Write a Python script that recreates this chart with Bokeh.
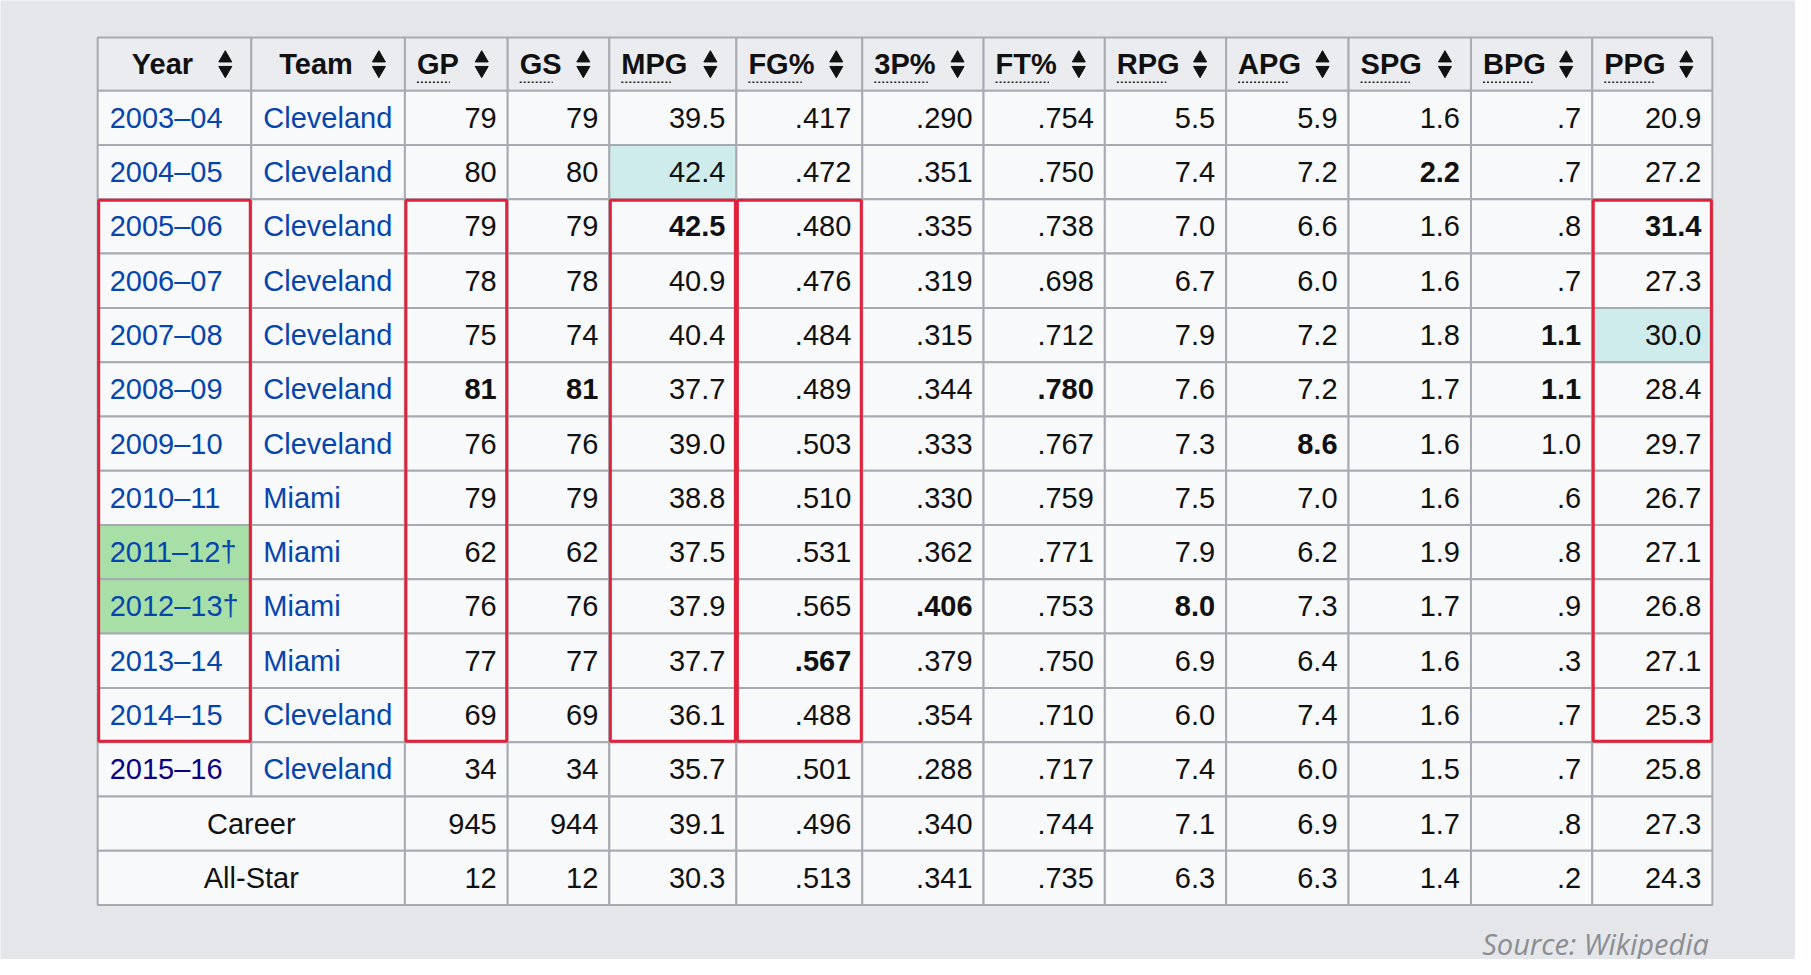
from bokeh.plotting import figure
from bokeh.models import Range1d
from bokeh.core.properties import value
from bokeh.embed import file_html
from bokeh.resources import INLINE

headers = ["Year", "Team", "GP", "GS", "MPG", "FG%", "3P%", "FT%", "RPG", "APG", "SPG", "BPG", "PPG"]
years = ["2003–04", "2004–05", "2005–06", "2006–07", "2007–08", "2008–09", "2009–10", "2010–11",
         "2011–12†", "2012–13†", "2013–14", "2014–15", "2015–16"]
teams = ["Cleveland"] * 7 + ["Miami"] * 4 + ["Cleveland"] * 2
gp = ["79", "80", "79", "78", "75", "81", "76", "79", "62", "76", "77", "69", "34", "945", "12"]
gs = ["79", "80", "79", "78", "74", "81", "76", "79", "62", "76", "77", "69", "34", "944", "12"]
mpg = ["39.5", "42.4", "42.5", "40.9", "40.4", "37.7", "39.0", "38.8", "37.5", "37.9", "37.7", "36.1", "35.7", "39.1", "30.3"]
fg = [".417", ".472", ".480", ".476", ".484", ".489", ".503", ".510", ".531", ".565", ".567", ".488", ".501", ".496", ".513"]
tp = [".290", ".351", ".335", ".319", ".315", ".344", ".333", ".330", ".362", ".406", ".379", ".354", ".288", ".340", ".341"]
ft = [".754", ".750", ".738", ".698", ".712", ".780", ".767", ".759", ".771", ".753", ".750", ".710", ".717", ".744", ".735"]
rpg = ["5.5", "7.4", "7.0", "6.7", "7.9", "7.6", "7.3", "7.5", "7.9", "8.0", "6.9", "6.0", "7.4", "7.1", "6.3"]
apg = ["5.9", "7.2", "6.6", "6.0", "7.2", "7.2", "8.6", "7.0", "6.2", "7.3", "6.4", "7.4", "6.0", "6.9", "6.3"]
spg = ["1.6", "2.2", "1.6", "1.6", "1.8", "1.7", "1.6", "1.6", "1.9", "1.7", "1.6", "1.6", "1.5", "1.7", "1.4"]
bpg = [".7", ".7", ".8", ".7", "1.1", "1.1", "1.0", ".6", ".8", ".9", ".3", ".7", ".7", ".8", ".2"]
ppg = ["20.9", "27.2", "31.4", "27.3", "30.0", "28.4", "29.7", "26.7", "27.1", "26.8", "27.1", "25.3", "25.8", "27.3", "24.3"]
summary_labels = ["Career", "All-Star"]
stat_cols = [gp, gs, mpg, fg, tp, ft, rpg, apg, spg, bpg, ppg]
bold_cells = {(2, 4), (1, 10), (4, 11), (5, 2), (5, 3), (5, 7), (5, 11), (6, 9), (9, 6), (9, 8), (10, 5), (2, 12)}
cyan_cells = {(1, 4), (4, 12)}
green_cells = {(8, 0), (9, 0)}
red_boxes = [(0, 0), (2, 2), (4, 4), (5, 5), (12, 12)]

S = 1.155
ref_cols = [85, 218, 351, 440, 528, 638, 747, 852, 957, 1062, 1168, 1274, 1379, 1483]
cx = [v * S - 1 for v in ref_cols]
ref_rows = [33, 79] + [79 + 47 * (i + 1) for i in range(15)]
ry = [v * S - 1 for v in ref_rows]

W, H = 1795, 959
p = figure(width=W, height=H, output_backend="svg", toolbar_location=None,
           x_range=Range1d(0, W), y_range=Range1d(H, 0), min_border=0)
p.axis.visible = False
p.grid.visible = False
p.outline_line_color = None
p.background_fill_color = "#e4e6ea"
p.border_fill_color = "#e4e6ea"

FS = "29px"
FONT = value("Liberation Sans")

xs, ys, ws, hs, cols = [], [], [], [], []
for r in range(16):
    for c in range(13):
        if r >= 14 and c == 1:
            continue
        x0, x1 = cx[c], cx[c + 1]
        if r >= 14 and c == 0:
            x1 = cx[2]
        y0, y1 = ry[r], ry[r + 1]
        if r == 0:
            col = "#eaecf0"
        elif (r - 1, c) in cyan_cells:
            col = "#cfeced"
        elif (r - 1, c) in green_cells:
            col = "#a7dfa7"
        else:
            col = "#f8f9fa"
        xs.append((x0 + x1) / 2); ys.append((y0 + y1) / 2)
        ws.append(x1 - x0); hs.append(y1 - y0); cols.append(col)
p.rect(x=xs, y=ys, width=ws, height=hs, fill_color=cols, line_color="#a7abb1", line_width=2)

for c, h in enumerate(headers):
    x0, x1 = cx[c], cx[c + 1]
    ym = (ry[0] + ry[1]) / 2
    if c < 2:
        p.text([(x0 + x1) / 2 - 12], [ym], text=[h], text_align="center", text_baseline="middle",
               text_font=FONT, text_font_size=FS, text_font_style="bold", text_color="#111")
    else:
        tx = x0 + 12
        p.text([tx], [ym], text=[h], text_align="left", text_baseline="middle",
               text_font=FONT, text_font_size=FS, text_font_style="bold", text_color="#111")
        tw = 16.5 * len(h) + (4 if "%" in h else 0)
        p.segment([tx], [ym + 18], [tx + tw], [ym + 18], line_color="#222", line_width=1.5, line_dash="2 2")
    ax = x1 - 26
    p.scatter([ax], [ym - 6], marker="triangle", size=13, color="#111")
    p.scatter([ax], [ym + 6], marker="inverted_triangle", size=13, color="#111")

for r in range(15):
    ym = (ry[r + 1] + ry[r + 2]) / 2
    if r < 13:
        p.text([cx[0] + 12], [ym], text=[years[r]], text_align="left", text_baseline="middle",
               text_font=FONT, text_font_size=FS, text_color="#0b0080" if r == 12 else "#0645ad")
        p.text([cx[1] + 12], [ym], text=[teams[r]], text_align="left", text_baseline="middle",
               text_font=FONT, text_font_size=FS, text_color="#0645ad")
    else:
        p.text([(cx[0] + cx[2]) / 2], [ym], text=[summary_labels[r - 13]], text_align="center",
               text_baseline="middle", text_font=FONT, text_font_size=FS, text_color="#111")
    for k, col in enumerate(stat_cols):
        c = k + 2
        p.text([cx[c + 1] - 11], [ym], text=[col[r]], text_align="right", text_baseline="middle",
               text_font=FONT, text_font_size=FS, text_color="#111",
               text_font_style="bold" if (r, c) in bold_cells else "normal")

for c0, c1 in red_boxes:
    x0, x1 = cx[c0] + 1, cx[c1 + 1] - 1
    y0, y1 = ry[3] + 1, ry[13] - 1
    p.rect([(x0 + x1) / 2], [(y0 + y1) / 2], width=x1 - x0, height=y1 - y0,
           fill_color=None, line_color="#e0223c", line_width=3)

p.text([1480 * S - 1], [817 * S - 1], text=["Source: Wikipedia"], text_align="right",
       text_baseline="middle", text_font=value("Open Sans"), text_font_size="29px",
       text_font_style="italic", text_color="#8a8d92")

open("out.html", "w").write(file_html(p, INLINE))
